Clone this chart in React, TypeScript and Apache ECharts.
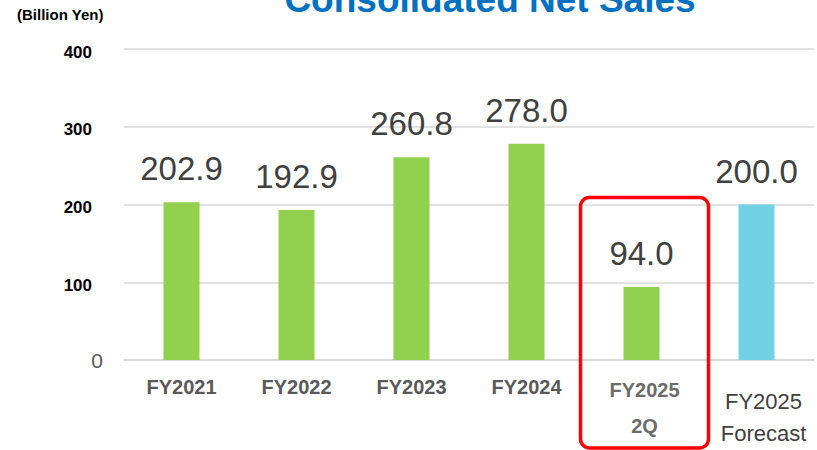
import React, { useEffect, useRef } from "react";
import * as echarts from "echarts";

const categories = ["FY2021", "FY2022", "FY2023", "FY2024", "FY2025 2Q", "FY2025 Forecast"];
const salesValues = [202.9, 192.9, 260.8, 278.0, 94.0, 200.0];
const barColors = ["#92D050", "#92D050", "#92D050", "#92D050", "#92D050", "#72D1E4"];
const yTicks = [0, 100, 200, 300, 400];
const highlightIndex = 4;

export default function App() {
  const ref = useRef<HTMLDivElement>(null);
  useEffect(() => {
    if (!ref.current) return;
    const chart = echarts.init(ref.current, undefined, { renderer: "svg" });
    const font = "'Liberation Sans', Arial, sans-serif";
    chart.setOption({
      animation: false,
      grid: { left: 124, right: 3, top: 49, bottom: 90, containLabel: false },
      xAxis: {
        type: "category",
        data: categories,
        axisTick: { show: false },
        axisLine: { lineStyle: { color: "#d9d9d9", width: 1.5 } },
        axisLabel: {
          margin: 17,
          interval: 0,
          fontFamily: font,
          formatter: (v: string) => {
            if (v === "FY2025 2Q") return "{b1|FY2025}\n{b2|2Q}";
            if (v === "FY2025 Forecast") return "{c1|FY2025}\n{c2|Forecast}";
            return "{a|" + v + "}";
          },
          rich: {
            a: { fontFamily: font, fontSize: 20, fontWeight: "bold", color: "#595959", lineHeight: 20 },
            b1: { fontFamily: font, fontSize: 20, fontWeight: "bold", color: "#6b6b6b", lineHeight: 26, padding: [0, 0, 0, 6] },
            b2: { fontFamily: font, fontSize: 20, fontWeight: "bold", color: "#6b6b6b", lineHeight: 46, padding: [0, 0, 0, 6] },
            c1: { fontFamily: font, fontSize: 22, color: "#404040", lineHeight: 48, padding: [0, 0, 0, 14] },
            c2: { fontFamily: font, fontSize: 22, color: "#404040", lineHeight: 16, padding: [0, 0, 0, 14] },
          },
        },
      },
      yAxis: {
        type: "value",
        min: yTicks[0],
        max: yTicks[yTicks.length - 1],
        interval: 100,
        axisLine: { show: false },
        axisTick: { show: false },
        splitLine: { lineStyle: { color: "#d9d9d9", width: 1.5 } },
        axisLabel: {
          margin: 21,
          formatter: (v: number) => (v === 0 ? "{z|0}" : "{n|" + v + "}"),
          rich: {
            n: { fontFamily: font, fontSize: 17, fontWeight: "bold", color: "#000", padding: [6, 11, 0, 0] },
            z: { fontFamily: font, fontSize: 21, color: "#595959" },
          },
        },
      },
      series: [
        {
          type: "bar",
          barWidth: 36,
          data: salesValues.map((v, i) => ({ value: v, itemStyle: { color: barColors[i] } })),
          label: {
            show: true,
            position: "top",
            distance: 17,
            fontFamily: font,
            fontSize: 33,
            color: "#404040",
            formatter: (p: any) => Number(p.value).toFixed(1),
          },
        },
      ],
      graphic: [
        {
          id: "unit",
          type: "text",
          left: 17,
          top: 7,
          style: { text: "(Billion Yen)", fontFamily: font, fontSize: 15, fontWeight: "bold", fill: "#000" },
        },
        {
          id: "title",
          type: "text",
          x: 490,
          y: 18,
          style: {
            text: "Consolidated Net Sales",
            fontFamily: font,
            fontSize: 37,
            fontWeight: "bold",
            fill: "#0070C0",
            align: "center",
            verticalAlign: "bottom",
          },
        },
      ],
    });
    const cx = chart.convertToPixel({ xAxisIndex: 0 }, highlightIndex) as number;
    const yTop = chart.convertToPixel({ yAxisIndex: 0 }, 200) as number;
    chart.setOption({
      graphic: [
        {
          id: "highlight",
          type: "rect",
          shape: { x: cx - 61, y: yTop - 7, width: 128, height: 448 - (yTop - 7), r: 9 },
          style: { fill: "none", stroke: "#FF0000", lineWidth: 3.5 },
          z: 100,
        },
      ],
    });
    return () => chart.dispose();
  }, []);
  return <div ref={ref} style={{ width: 817, height: 450, position: "absolute", left: 0, top: 0 }} />;
}
